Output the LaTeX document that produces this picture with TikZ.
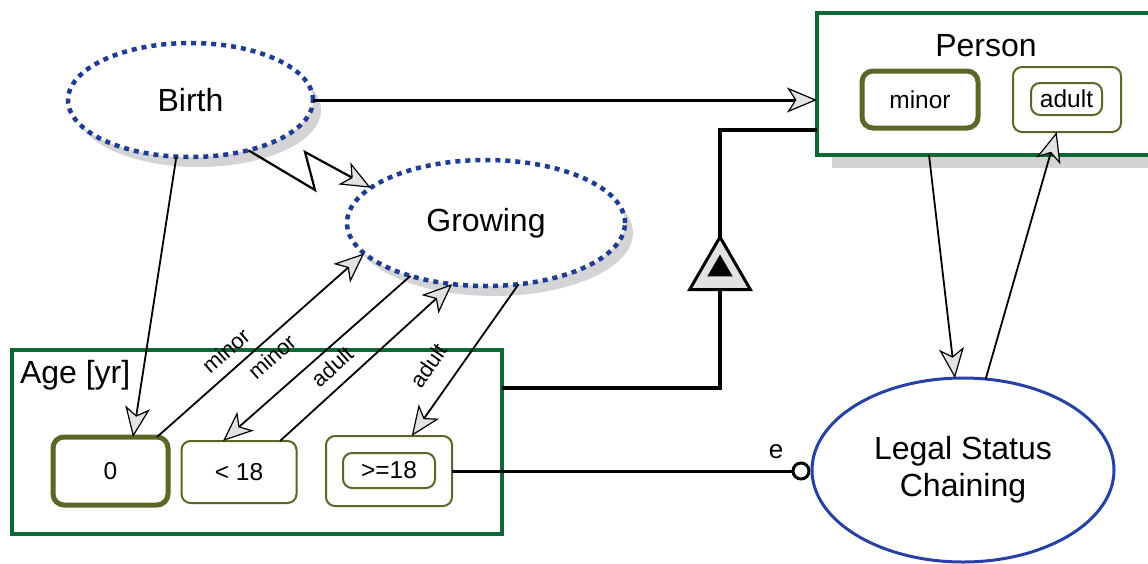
\documentclass[tikz,border=0pt]{standalone}
\usepackage{fontspec}
\setmainfont{Liberation Sans}
\usetikzlibrary{arrows.meta,calc,shapes.geometric,shadows}
\definecolor{boxgreen}{RGB}{12,104,52}
\definecolor{stateolive}{RGB}{92,102,38}
\definecolor{dotblue}{RGB}{30,60,150}
\definecolor{legalblue}{RGB}{38,64,165}
\definecolor{arrowfill}{RGB}{226,226,226}
\definecolor{shadowgray}{RGB}{212,212,214}
\tikzset{
  every node/.style={inner sep=0pt, outer sep=0pt},
  procdot/.style={ellipse, draw=dotblue, line width=4.5pt, dash pattern=on 5pt off 5pt,
    fill=white, font=\fontsize{32}{38}\selectfont,
    drop shadow={shadow xshift=8pt, shadow yshift=-10pt, fill=shadowgray, opacity=1}},
  objbox/.style={rectangle, draw=boxgreen, line width=3.5pt, fill=white},
  statethick/.style={rectangle, rounded corners=11pt, draw=stateolive, line width=5pt,
    fill=white, font=\fontsize{24.5}{29}\selectfont},
  statethin/.style={rectangle, rounded corners=9pt, draw=stateolive, line width=2pt,
    fill=white, font=\fontsize{24.5}{29}\selectfont},
  arr/.style={-{Stealth[length=30pt, width=25pt, inset=8pt, fill=arrowfill, line width=1.2pt]},
    line width=1.8pt},
  genline/.style={line width=3.5pt},
  edgelbl/.style={font=\fontsize{22}{26}\selectfont},
  bigtext/.style={font=\fontsize{32}{38}\selectfont},
}
\begin{document}
\begin{tikzpicture}[x=1pt, y=-1pt]
\useasboundingbox (0,0) rectangle (1148,563);
\clip (0,0) rectangle (1148,563);

% processes
\node[procdot, minimum width=245pt, minimum height=114pt] (Birth) at (190.5,100) {Birth};
\node[procdot, minimum width=278pt, minimum height=126pt] (Growing) at (486,223) {Growing};

% Person object
\node[objbox, minimum width=338pt, minimum height=142pt,
  drop shadow={shadow xshift=15pt, shadow yshift=-13pt, fill=shadowgray, opacity=1}] (Person) at (986,84) {};
\node[bigtext] (PersonLbl) at ($(Person.north)+(0,33)$) {Person};
\node[statethick, minimum width=116pt, minimum height=57pt] (minor) at (920,99.5) {minor};
\node[statethin, minimum width=108pt, minimum height=65pt] (adultout) at (1067,99.5) {};
\node[statethin, minimum width=71pt, minimum height=32pt] (adult) at (1066.5,99) {adult};

% Age object
\node[objbox, minimum width=490pt, minimum height=184pt] (Age) at (257,442) {};
\node[bigtext, anchor=west] (AgeLbl) at ($(Age.north west)+(8,25)$) {Age [yr]};
\node[statethick, minimum width=115pt, minimum height=68pt] (zero) at (110.5,471) {0};
\node[statethin, minimum width=115pt, minimum height=62pt] (lt) at (239,472) {< 18};
\node[statethin, minimum width=126pt, minimum height=70pt] (geout) at (389,471) {};
\node[statethin, minimum width=92pt, minimum height=35pt] (ge) at (389,470.5) {>=18};

% Legal Status Chaining
\node[ellipse, draw=legalblue, line width=3pt, fill=white, minimum width=302pt, minimum height=184pt,
  align=center, font=\fontsize{32}{37}\selectfont] (Legal) at (963,470) {Legal Status\\Chaining};

% generalization symbol
\node[regular polygon, regular polygon sides=3, minimum size=70pt, draw, line width=3pt,
  fill=arrowfill] (gen) at (720,272) {};
\node[regular polygon, regular polygon sides=3, minimum size=29pt, fill=black] (genmark) at (720,269) {};

% effect link
\node[circle, draw, line width=3pt, fill=white, minimum size=16pt] (ecirc) at (801,471) {};
\node[font=\fontsize{26}{30}\selectfont] (elbl) at (776,452) {e};

% connectors
\draw[arr, line width=3pt] (Birth.east) -- (Birth.east -| Person.west);
\coordinate (z1) at (315,190);
\coordinate (z2) at (305,152);
\draw[arr, line width=2.2pt] (Birth.-41.7) -- (z1) -- (z2) -- (Growing.163.3);
\draw[arr] (Birth.-104.3) -- ([xshift=22.5pt]zero.north);

\draw[arr] ([xshift=46.5pt]zero.north) -- (Growing.194.6)
  node[edgelbl, pos=0.393, sloped, above=11pt] {minor};
\draw[arr] (Growing.215.9) -- ([xshift=-16pt]lt.north)
  node[edgelbl, pos=0.63, sloped, above=23pt] {minor};
\draw[arr] ([xshift=41pt]lt.north) -- (Growing.241.3)
  node[edgelbl, pos=0.381, sloped, above=12pt] {adult};
\draw[arr] (Growing.298) -- ([xshift=22.7pt]geout.north)
  node[edgelbl, pos=0.637, sloped, above=19pt] {adult};

\draw[genline] ($(Age.north east)+(0,38)$) -| (gen.south);
\draw[genline] (gen.north) |- ($(Person.north west)+(0,117)$);

\draw[line width=3pt] (geout.east) -- (ecirc.west);

\draw[arr] ([xshift=-57pt]Person.south) -- (Legal.95);
\draw[arr] (Legal.76.6) -- ([xshift=-10.3pt]adultout.south);
\end{tikzpicture}
\end{document}
